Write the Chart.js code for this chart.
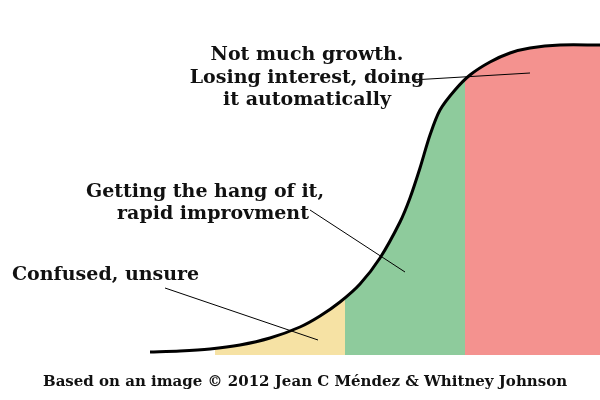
<!DOCTYPE html>
<html><head><meta charset="utf-8">
<script src="https://cdn.jsdelivr.net/npm/chart.js@4"></script>
<style>body{margin:0;background:#fff}#wrap{width:600px;height:400px}</style>
</head><body><div id="wrap"><canvas id="s"></canvas></div>
<script>
// S-curve (x position, height above baseline)
const curveX = [150, 180, 210, 240, 270, 300, 320, 340, 360, 380, 400, 410, 420, 430, 440, 455, 470, 490, 510, 530, 560, 600];
const curveY = [3, 4, 6, 10, 17, 28, 39, 53, 71, 97, 133, 157, 187, 220, 245, 265, 280, 293, 302, 307, 310, 310];
// stage regions
const yellowX = [215, 240, 270, 300, 320, 340, 345];
const yellowY = [7, 10, 17, 28, 39, 53, 58];
const greenX = [345, 360, 380, 400, 410, 420, 430, 440, 455, 465];
const greenY = [58, 71, 97, 133, 157, 187, 220, 245, 265, 275];
const redX = [465, 470, 490, 510, 530, 560, 600];
const redY = [275, 280, 293, 302, 307, 310, 310];

const pts = (xs, ys) => xs.map((x, i) => ({x: x, y: ys[i]}));
const area = (xs, ys, c) => ({data: pts(xs, ys), fill: 'origin', backgroundColor: c, borderWidth: 0, pointRadius: 0, tension: 0.3});

const notes = {
  id: 'notes',
  afterDraw(chart) {
    const c = chart.ctx;
    c.save();
    c.strokeStyle = '#000'; c.lineWidth = 1;
    [[412, 80, 530, 73], [310, 210, 405, 272], [165, 288, 318, 340]].forEach(l => {
      c.beginPath(); c.moveTo(l[0], l[1]); c.lineTo(l[2], l[3]); c.stroke();
    });
    c.fillStyle = '#111';
    c.font = 'bold 19px "DejaVu Serif"';
    c.textBaseline = 'middle';
    c.textAlign = 'center';
    c.fillText('Not much growth.', 307, 55);
    c.fillText('Losing interest, doing', 307, 78);
    c.fillText('it automatically', 307, 100);
    c.fillText('Getting the hang of it,', 205, 192);
    c.fillText('rapid improvment', 213, 214);
    c.textAlign = 'left';
    c.fillText('Confused, unsure', 12, 275);
    c.textAlign = 'center';
    c.font = 'bold 15px "DejaVu Serif"';
    c.fillText('Based on an image \u00a9 2012 Jean C M\u00e9ndez & Whitney Johnson', 305, 382);
    c.restore();
  }
};

new Chart(document.getElementById('s'), {
  type: 'line',
  data: {
    datasets: [
      {data: pts(curveX, curveY), borderColor: '#000', borderWidth: 3, pointRadius: 0, fill: false, tension: 0.3},
      area(yellowX, yellowY, '#f6e2a4'),
      area(greenX, greenY, '#8ecb9c'),
      area(redX, redY, '#f4928f')
    ]
  },
  options: {
    responsive: true, maintainAspectRatio: false, animation: false,
    layout: {padding: 0},
    plugins: {legend: {display: false}, tooltip: {enabled: false}},
    scales: {
      x: {type: 'linear', min: 0, max: 600, display: false},
      y: {min: -45, max: 355, display: false}
    }
  },
  plugins: [notes]
});
</script></body></html>
